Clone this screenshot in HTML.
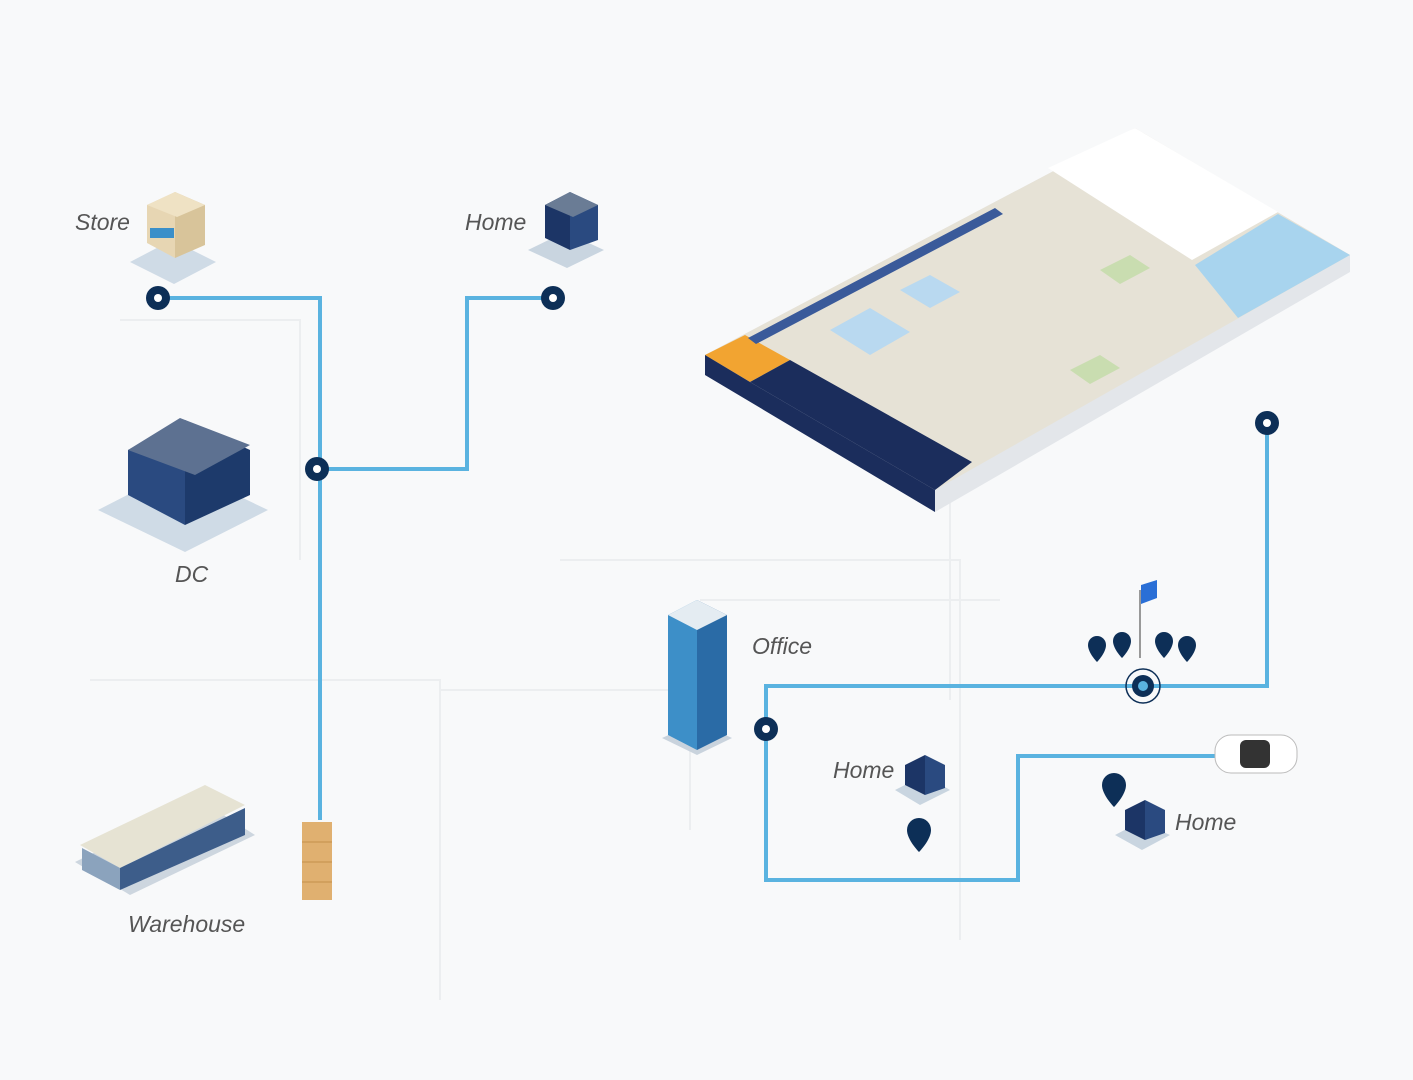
<!DOCTYPE html>
<html><head><meta charset="utf-8"><style>
html,body{margin:0;padding:0;background:#f8f9fa;}
svg{display:block}
text{font-family:"Liberation Sans",sans-serif;font-style:italic;fill:#555;font-size:23px}
</style></head><body>
<svg width="1413" height="1080" viewBox="0 0 1413 1080" xmlns="http://www.w3.org/2000/svg">
<rect width="1413" height="1080" fill="#f8f9fa"/>
<g stroke="#eceef0" stroke-width="2" fill="none">
<path d="M90 680H440V1000M440 690H690V830M560 560H960V940M950 480V700M120 320H300V560M700 600H1000"/>
</g>
<!-- connectors -->
<g stroke="#5ab3e0" stroke-width="4" fill="none">
<path d="M158 298H320V820"/>
<path d="M317 469H467V298H553"/>
<path d="M1267 423V686H766V880H1018V756H1215"/>
</g>
<g fill="#0d2f57">
<circle cx="158" cy="298" r="12"/><circle cx="553" cy="298" r="12"/><circle cx="317" cy="469" r="12"/>
<circle cx="1267" cy="423" r="12"/><circle cx="766" cy="729" r="12"/><circle cx="1143" cy="686" r="11"/>
</g>
<circle cx="1143" cy="686" r="17" fill="none" stroke="#0d2f57" stroke-width="1.5"/>
<g fill="#fff"><circle cx="158" cy="298" r="4"/><circle cx="553" cy="298" r="4"/><circle cx="317" cy="469" r="4"/><circle cx="1267" cy="423" r="4"/><circle cx="766" cy="729" r="4"/></g>
<circle cx="1143" cy="686" r="5" fill="#5ab3e0"/>
<!-- labels -->
<text x="75" y="230">Store</text>
<text x="465" y="230">Home</text>
<text x="175" y="582">DC</text>
<text x="128" y="932">Warehouse</text>
<text x="752" y="654">Office</text>
<text x="833" y="778">Home</text>
<text x="1175" y="830">Home</text>
<!-- store -->
<polygon points="130,262 172,240 216,262 174,284" fill="#cfdbe6"/>
<polygon points="147,205 175,192 175,258 147,243" fill="#e7d6b3"/>
<polygon points="175,192 205,205 205,245 175,258" fill="#d8c49a"/>
<polygon points="147,205 175,192 205,205 177,217" fill="#efe2c4"/>
<rect x="150" y="228" width="24" height="10" fill="#3a8fc9"/>
<!-- home top -->
<polygon points="528,250 565,232 604,250 567,268" fill="#c9d5e0"/>
<polygon points="545,205 570,192 570,250 545,238" fill="#1c3566"/>
<polygon points="570,192 598,205 598,240 570,250" fill="#2a4a80"/>
<polygon points="545,205 570,192 598,205 573,217" fill="#6a7c95"/>
<!-- DC -->
<polygon points="98,510 180,468 268,510 185,552" fill="#cfdbe6"/>
<polygon points="128,450 185,420 185,525 128,495" fill="#2a4a80"/>
<polygon points="185,420 250,450 250,495 185,525" fill="#1d3a6b"/>
<polygon points="128,450 180,418 250,445 195,475" fill="#5d7191"/>
<!-- warehouse -->
<polygon points="75,862 200,800 255,835 130,895" fill="#cdd6df"/>
<polygon points="80,845 205,785 245,805 120,868" fill="#e6e3d3"/>
<polygon points="82,848 120,868 120,890 82,870" fill="#8ba3bd"/>
<polygon points="120,868 245,808 245,835 120,890" fill="#3d5d8a"/>
<!-- pallet -->
<rect x="302" y="822" width="30" height="78" fill="#e0b070"/>
<path d="M302 842H332M302 862H332M302 882H332" stroke="#c48f4a"/>
<!-- office tower -->
<polygon points="662,738 697,755 732,738 697,722" fill="#c9d3dd"/>
<polygon points="668,615 697,600 697,750 668,735" fill="#3d8fc8"/>
<polygon points="697,600 727,615 727,735 697,750" fill="#2a6ba6"/>
<polygon points="668,615 697,600 727,615 697,630" fill="#e4ecf2"/>
<!-- homes bottom -->
<polygon points="895,790 925,775 950,790 920,805" fill="#c9d5e0"/>
<polygon points="905,765 925,755 925,795 905,785" fill="#1c3566"/>
<polygon points="925,755 945,765 945,788 925,795" fill="#2a4a80"/>
<polygon points="1115,835 1140,822 1170,835 1142,850" fill="#c9d5e0"/>
<polygon points="1125,810 1145,800 1145,840 1125,830" fill="#1c3566"/>
<polygon points="1145,800 1165,810 1165,833 1145,840" fill="#2a4a80"/>
<!-- car -->
<rect x="1215" y="735" width="82" height="38" rx="16" fill="#fff" stroke="#bbb"/>
<rect x="1240" y="740" width="30" height="28" rx="6" fill="#333"/>
<!-- pins -->
<g fill="#0d2f57">
<path d="M919 818a12 12 0 0 1 12 12c0 10-12 22-12 22s-12-12-12-22a12 12 0 0 1 12-12z"/>
<path d="M1114 773a12 12 0 0 1 12 12c0 10-12 22-12 22s-12-12-12-22a12 12 0 0 1 12-12z"/>
<path d="M1097 636a9 9 0 0 1 9 9c0 8-9 17-9 17s-9-9-9-17a9 9 0 0 1 9-9z"/>
<path d="M1122 632a9 9 0 0 1 9 9c0 8-9 17-9 17s-9-9-9-17a9 9 0 0 1 9-9z"/>
<path d="M1164 632a9 9 0 0 1 9 9c0 8-9 17-9 17s-9-9-9-17a9 9 0 0 1 9-9z"/>
<path d="M1187 636a9 9 0 0 1 9 9c0 8-9 17-9 17s-9-9-9-17a9 9 0 0 1 9-9z"/>
</g>
<line x1="1140" y1="590" x2="1140" y2="658" stroke="#999" stroke-width="2"/>
<polygon points="1141,585 1157,580 1157,598 1141,604" fill="#2a6fd6"/>
<!-- map platform -->
<polygon points="705,355 1135,128 1350,255 1350,272 935,512 705,375" fill="#e3e6ea"/>
<polygon points="705,355 1135,128 1350,255 935,490" fill="#e6e2d6"/>
<polygon points="1048,168 1135,128 1278,212 1192,260" fill="#fff"/>
<polygon points="1195,265 1278,214 1350,255 1238,318" fill="#a8d4ee"/>
<polygon points="830,330 870,308 910,332 870,355" fill="#b9d9f0"/>
<polygon points="900,290 930,275 960,292 930,308" fill="#b9d9f0"/>
<polygon points="1070,370 1100,355 1120,368 1090,384" fill="#c9ddb0"/>
<polygon points="1100,270 1130,255 1150,268 1120,284" fill="#c9ddb0"/>
<polygon points="705,355 745,335 790,360 750,382" fill="#f2a431"/>
<polygon points="750,382 790,360 972,462 935,490" fill="#1b2d5c"/>
<polygon points="705,355 750,382 935,490 935,512 705,375" fill="#1b2d5c"/>
<polygon points="748,338 995,208 1003,214 756,344" fill="#3a5a9a"/>
</svg>
</body></html>
